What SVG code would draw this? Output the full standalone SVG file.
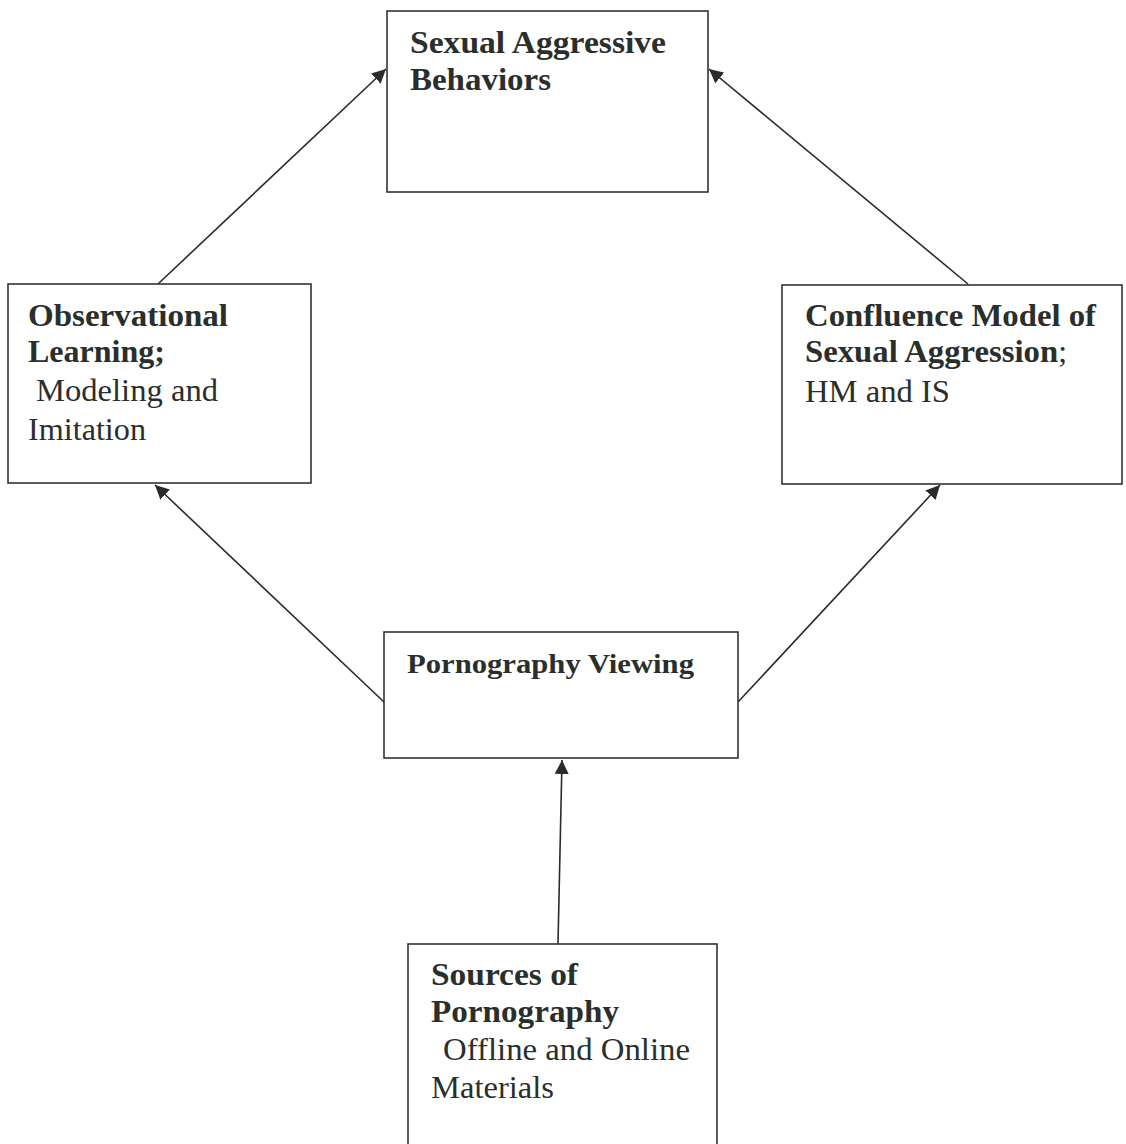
<svg xmlns="http://www.w3.org/2000/svg" width="1126" height="1144" viewBox="0 0 1126 1144">
<style>
.box{fill:#fff;stroke:#333;stroke-width:1.6}
.t{font-family:"Times New Roman","Liberation Serif",Tinos,Times,serif;fill:#2a2f2c;font-size:31px}
.b{font-weight:bold;font-size:32px}
.edge{stroke:#2b2b2b;stroke-width:1.6;fill:none}
</style>
<defs>
<marker id="ah" viewBox="0 0 10 10" refX="10" refY="5" markerWidth="14" markerHeight="14" markerUnits="userSpaceOnUse" orient="auto">
<path d="M0,0 L10,5 L0,10 z" fill="#2b2b2b"/>
</marker>
</defs>
<rect width="1126" height="1144" fill="#fff"/>
<g id="connectors">
<line x1="158" y1="284" x2="386" y2="69" class="edge" marker-end="url(#ah)"/>
<line x1="968" y1="284" x2="709" y2="69" class="edge" marker-end="url(#ah)"/>
<line x1="384" y1="702" x2="155" y2="485" class="edge" marker-end="url(#ah)"/>
<line x1="738" y1="702" x2="940" y2="485" class="edge" marker-end="url(#ah)"/>
<line x1="558" y1="944" x2="562" y2="760" class="edge" marker-end="url(#ah)"/>
</g>
<g id="sexual-aggressive-behaviors">
<rect class="box" x="387" y="11" width="321" height="181"/>
<text class="t b" x="410" y="53" textLength="256" lengthAdjust="spacingAndGlyphs">Sexual Aggressive</text>
<text class="t b" x="410" y="90" textLength="141" lengthAdjust="spacingAndGlyphs">Behaviors</text>
</g>
<g id="observational-learning">
<rect class="box" x="8" y="284" width="303" height="199"/>
<text class="t b" x="28" y="326" textLength="200" lengthAdjust="spacingAndGlyphs">Observational</text>
<text class="t b" x="28" y="362" textLength="137" lengthAdjust="spacingAndGlyphs">Learning;</text>
<text class="t" x="36" y="401" textLength="182" lengthAdjust="spacingAndGlyphs">Modeling and</text>
<text class="t" x="28" y="440" textLength="118" lengthAdjust="spacingAndGlyphs">Imitation</text>
</g>
<g id="confluence-model">
<rect class="box" x="782" y="285" width="340" height="199"/>
<text class="t b" x="805" y="326" textLength="291" lengthAdjust="spacingAndGlyphs">Confluence Model of</text>
<text class="t" x="805" y="362" textLength="262" lengthAdjust="spacingAndGlyphs"><tspan class="b">Sexual Aggression</tspan>;</text>
<text class="t" x="805" y="402" textLength="145" lengthAdjust="spacingAndGlyphs">HM and IS</text>
</g>
<g id="pornography-viewing">
<rect class="box" x="384" y="632" width="354" height="126"/>
<text class="t b" x="407" y="673" style="font-size:28px" textLength="287" lengthAdjust="spacingAndGlyphs">Pornography Viewing</text>
</g>
<g id="sources-of-pornography">
<rect class="box" x="408" y="944" width="309" height="220"/>
<text class="t b" x="431" y="985" textLength="147" lengthAdjust="spacingAndGlyphs">Sources of</text>
<text class="t b" x="431" y="1022" textLength="188" lengthAdjust="spacingAndGlyphs">Pornography</text>
<text class="t" x="443" y="1060" textLength="247" lengthAdjust="spacingAndGlyphs">Offline and Online</text>
<text class="t" x="431" y="1098" textLength="123" lengthAdjust="spacingAndGlyphs">Materials</text>
</g>
</svg>
